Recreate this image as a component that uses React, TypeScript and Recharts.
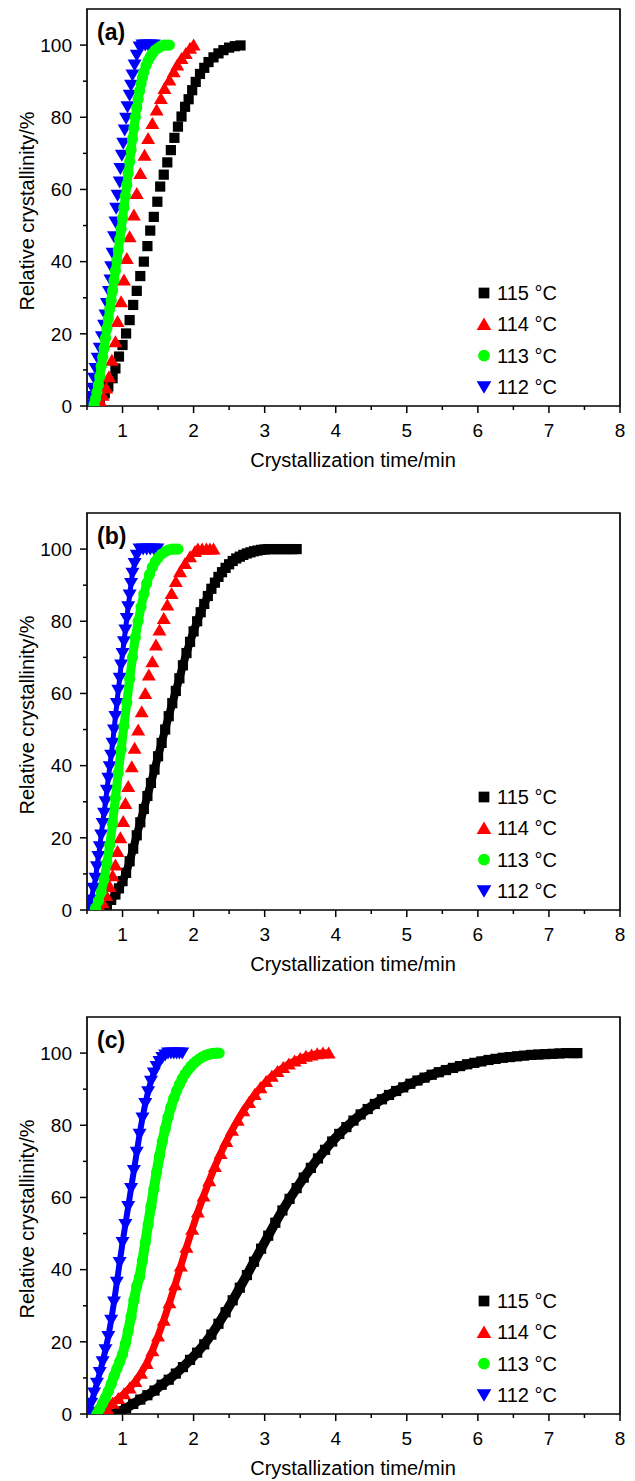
import React from "react";
import { Legend, ReferenceArea, Scatter, ScatterChart, XAxis, YAxis } from "recharts";

type Pt = [number, number]; // [time/min, relative crystallinity/%]

const xTicks = [0.5, 1, 1.5, 2, 2.5, 3, 3.5, 4, 4.5, 5, 5.5, 6, 6.5, 7, 7.5, 8];
const xMajor = [1, 2, 3, 4, 5, 6, 7, 8];
const yTicks = [0, 10, 20, 30, 40, 50, 60, 70, 80, 90, 100];
const yMajor = [0, 20, 40, 60, 80, 100];

const names = ["115 °C", "114 °C", "113 °C", "112 °C"];
const colors = ["#000000", "#ff0000", "#00ff00", "#0000ff"];
const shapes = ["square", "up", "circle", "down"];

// (a)
const a115: Pt[] = [
  [0.68, 1.2], [0.75, 3.5], [0.8, 5.4], [0.86, 7.7], [0.9, 10.4], [0.95, 13.7], [1.0, 16.9], [1.05, 20.1],
  [1.1, 23.8], [1.15, 28], [1.2, 31.9], [1.25, 36], [1.3, 40], [1.35, 44.3], [1.39, 48.6], [1.44, 52.4],
  [1.49, 56.6], [1.53, 60.8], [1.58, 64.1], [1.63, 67.5], [1.68, 70.9], [1.73, 74.3], [1.78, 77.4],
  [1.83, 80.2], [1.88, 82.9], [1.93, 85], [1.98, 87.5], [2.03, 89.8], [2.09, 92], [2.15, 93.7],
  [2.21, 95.3], [2.28, 96.6], [2.35, 97.7], [2.42, 98.6], [2.5, 99.3], [2.58, 99.7], [2.66, 99.9],
];
const a114: Pt[] = [
  [0.64, 0.3], [0.68, 1.5], [0.72, 3], [0.77, 5], [0.81, 8.1], [0.85, 12.7], [0.9, 17.8], [0.93, 23.4],
  [0.98, 28.9], [1.02, 34.9], [1.06, 40.9], [1.1, 46.9], [1.16, 52.9], [1.2, 58.9], [1.25, 64.4],
  [1.31, 69.5], [1.36, 74.1], [1.42, 78.3], [1.48, 82], [1.54, 85.2], [1.59, 88], [1.66, 90.3],
  [1.72, 92.6], [1.77, 94.5], [1.83, 96.3], [1.89, 97.7], [1.95, 99.1], [2.0, 100],
];
const a113: Pt[] = [
  [0.6, 0.5], [0.62, 2], [0.64, 3.8], [0.66, 5.8], [0.68, 8.2], [0.7, 11], [0.72, 13.5], [0.74, 16],
  [0.76, 18.8], [0.78, 21.5], [0.8, 24.2], [0.82, 26.8], [0.84, 29.3], [0.86, 32], [0.88, 34.8],
  [0.9, 37.5], [0.92, 40.3], [0.94, 43.2], [0.96, 46.2], [0.98, 49], [1.0, 52], [1.02, 55], [1.04, 58.2],
  [1.06, 61.3], [1.08, 64.5], [1.1, 67.7], [1.12, 71], [1.14, 74], [1.16, 77], [1.18, 80], [1.2, 82.6],
  [1.22, 85], [1.24, 87.3], [1.26, 89.3], [1.28, 91], [1.3, 92.5], [1.33, 94.3], [1.36, 95.7],
  [1.39, 96.8], [1.42, 97.7], [1.46, 98.6], [1.5, 99.2], [1.54, 99.7], [1.58, 100], [1.62, 100], [1.66, 100],
];
const a112: Pt[] = [
  [0.53, 0.3], [0.55, 2.6], [0.58, 4.9], [0.6, 7.7], [0.62, 10.4], [0.65, 13.2], [0.68, 16], [0.71, 19.2],
  [0.74, 22.4], [0.76, 25.2], [0.78, 28.4], [0.81, 31.7], [0.83, 34.9], [0.84, 38.6], [0.86, 42.3],
  [0.88, 46.9], [0.9, 51], [0.91, 54.8], [0.93, 58.4], [0.96, 62.1], [0.97, 65.8], [0.99, 69.5],
  [1.01, 72.8], [1.03, 76.5], [1.05, 79.7], [1.07, 82.9], [1.1, 86.1], [1.12, 88.9], [1.14, 91.7],
  [1.17, 94.5], [1.2, 97.2], [1.24, 99.5], [1.28, 100], [1.32, 100], [1.36, 100], [1.4, 100], [1.44, 100],
];

// (b)
const b115: Pt[] = [
  [0.72, 0.5], [0.78, 1.5], [0.84, 2.8], [0.9, 4.3], [0.95, 6], [1.0, 8], [1.05, 10.3], [1.1, 13.5],
  [1.15, 17], [1.2, 20.7], [1.25, 24.3], [1.3, 28], [1.35, 31.6], [1.4, 35.2], [1.45, 38.9], [1.5, 42.6],
  [1.55, 46.3], [1.6, 50], [1.65, 53.7], [1.7, 57.3], [1.75, 60.7], [1.8, 64.2], [1.85, 67.8], [1.9, 71.2],
  [1.95, 74.3], [2.0, 77.2], [2.05, 80], [2.1, 82.5], [2.15, 84.8], [2.2, 87], [2.25, 89], [2.3, 90.7],
  [2.35, 92.3], [2.4, 93.6], [2.45, 94.8], [2.5, 95.8], [2.55, 96.7], [2.6, 97.4], [2.65, 97.9],
  [2.7, 98.4], [2.75, 98.8], [2.8, 99.1], [2.85, 99.4], [2.9, 99.6], [2.95, 99.8], [3.0, 99.9],
  [3.05, 100], [3.1, 100], [3.15, 100], [3.2, 100], [3.25, 100], [3.3, 100], [3.35, 100], [3.4, 100], [3.45, 100],
];
const b114: Pt[] = [
  [0.68, 0.5], [0.72, 2], [0.77, 4], [0.82, 6.5], [0.86, 9.5], [0.9, 12.5], [0.93, 16.2], [0.97, 20],
  [1.01, 24.5], [1.04, 29.5], [1.08, 34.2], [1.13, 39.7], [1.17, 44.8], [1.22, 49.9], [1.27, 54.9],
  [1.32, 60], [1.37, 65.1], [1.42, 68.8], [1.47, 73.4], [1.52, 77.6], [1.58, 80.8], [1.63, 84.5],
  [1.69, 87.7], [1.75, 91], [1.81, 93.7], [1.88, 96], [1.95, 97.9], [2.02, 99.3], [2.06, 100],
  [2.12, 100], [2.18, 100], [2.23, 100], [2.28, 100],
];
const b113: Pt[] = [
  [0.62, 0.5], [0.66, 2.5], [0.7, 5], [0.74, 8.5], [0.78, 13], [0.82, 18], [0.86, 24], [0.9, 31],
  [0.94, 38], [0.98, 44.5], [1.02, 51], [1.06, 57.5], [1.1, 64], [1.14, 70], [1.18, 75.5], [1.22, 80],
  [1.26, 84], [1.3, 87.5], [1.34, 90.5], [1.38, 93], [1.42, 95], [1.46, 96.5], [1.5, 97.6], [1.55, 98.6],
  [1.6, 99.3], [1.65, 99.8], [1.7, 100], [1.74, 100], [1.78, 100],
];
const b112: Pt[] = [
  [0.53, 0.5], [0.56, 2.8], [0.59, 6], [0.62, 8.8], [0.64, 12], [0.66, 14.8], [0.68, 17.5], [0.7, 20.8],
  [0.72, 24], [0.74, 26.8], [0.76, 30], [0.78, 33.2], [0.8, 36.5], [0.82, 39.7], [0.84, 42.9],
  [0.86, 46.2], [0.88, 49.9], [0.9, 53.6], [0.92, 57.2], [0.94, 60.9], [0.96, 64.2], [0.98, 67.9],
  [1.0, 71.1], [1.02, 74.3], [1.04, 77.6], [1.06, 80.8], [1.08, 84], [1.1, 87.3], [1.12, 90.5],
  [1.14, 93.3], [1.17, 96], [1.2, 98.3], [1.24, 100], [1.29, 100], [1.34, 100], [1.39, 100], [1.44, 100], [1.49, 100],
];

// (c)
const c115: Pt[] = [
  [0.85, 0], [0.95, 0.6], [1.05, 1.6], [1.15, 2.8], [1.25, 4], [1.35, 5.2], [1.45, 6.5], [1.55, 8.1],
  [1.65, 9.5], [1.75, 11.2], [1.85, 13], [1.95, 15], [2.05, 17], [2.15, 19.3], [2.25, 22],
  [2.35, 25], [2.45, 28.2], [2.55, 31.5], [2.65, 35], [2.75, 38.5], [2.85, 42.2], [2.95, 45.8], [3.05, 49.4],
  [3.15, 53], [3.25, 56.4], [3.35, 59.6], [3.45, 62.6], [3.55, 65.5], [3.65, 68.2], [3.75, 70.8],
  [3.85, 73.2], [3.95, 75.5], [4.05, 77.6], [4.15, 79.5], [4.25, 81.3], [4.35, 83], [4.45, 84.5],
  [4.55, 85.9], [4.65, 87.2], [4.75, 88.4], [4.85, 89.5], [4.95, 90.5], [5.05, 91.5], [5.15, 92.4],
  [5.25, 93.2], [5.35, 94], [5.45, 94.7], [5.55, 95.3], [5.65, 95.9], [5.75, 96.4], [5.85, 96.9],
  [5.95, 97.3], [6.05, 97.7], [6.15, 98.1], [6.25, 98.4], [6.35, 98.7], [6.45, 98.9], [6.55, 99.1],
  [6.65, 99.3], [6.75, 99.5], [6.85, 99.6], [6.95, 99.7], [7.05, 99.8], [7.15, 99.9], [7.25, 100],
  [7.35, 100], [7.4, 100],
];
const c114: Pt[] = [
  [0.7, 0], [0.78, 1.5], [0.86, 3], [0.94, 4.3], [1.02, 5.6], [1.1, 7.2], [1.18, 9], [1.26, 11.3],
  [1.34, 14], [1.42, 17.5], [1.5, 21.6], [1.58, 26], [1.66, 30.8], [1.74, 35.8], [1.82, 41], [1.9, 46.2],
  [1.98, 51.2], [2.06, 56], [2.14, 60.4], [2.22, 64.6], [2.3, 68.6], [2.38, 72.2], [2.46, 75.5],
  [2.54, 78.6], [2.62, 81.4], [2.7, 84], [2.78, 86.3], [2.86, 88.5], [2.94, 90.4], [3.02, 92.1],
  [3.1, 93.6], [3.18, 94.9], [3.26, 96], [3.34, 97], [3.42, 97.8], [3.5, 98.5], [3.58, 99.1],
  [3.66, 99.5], [3.74, 99.8], [3.82, 100], [3.9, 100],
];
const c113: Pt[] = [
  [0.64, 0], [0.68, 1.5], [0.72, 3], [0.76, 4.5], [0.8, 6.3], [0.84, 8.3], [0.88, 10.5], [0.92, 12.5],
  [0.96, 14.5], [1.0, 16.5], [1.04, 19.5], [1.08, 23], [1.12, 27], [1.16, 31.5], [1.2, 35.5], [1.24, 38],
  [1.28, 42.5], [1.32, 47.5], [1.36, 52.5], [1.4, 57.5], [1.44, 62.3], [1.48, 67], [1.52, 71.5],
  [1.56, 75.5], [1.6, 79], [1.64, 82.2], [1.68, 85], [1.72, 87.4], [1.76, 89.5], [1.8, 91.3],
  [1.84, 92.9], [1.88, 94.2], [1.92, 95.3], [1.96, 96.3], [2.0, 97.1], [2.04, 97.8], [2.08, 98.4],
  [2.12, 98.9], [2.16, 99.3], [2.2, 99.6], [2.24, 99.8], [2.28, 99.9], [2.32, 100], [2.36, 100],
];
const c112: Pt[] = [
  [0.52, 0.5], [0.56, 3], [0.6, 5.8], [0.64, 8.5], [0.68, 11.5], [0.72, 14.5], [0.76, 17.8], [0.8, 21.5],
  [0.84, 26], [0.88, 31], [0.92, 36.5], [0.96, 42], [1.0, 47.5], [1.04, 52.5], [1.08, 57.5], [1.12, 62.5],
  [1.16, 67.5], [1.2, 72.5], [1.24, 77.5], [1.28, 82], [1.32, 86], [1.36, 89.3], [1.4, 92.2],
  [1.44, 94.5], [1.48, 96.3], [1.52, 97.7], [1.56, 98.8], [1.6, 99.5], [1.64, 100], [1.68, 100],
  [1.72, 100], [1.76, 100], [1.8, 100], [1.84, 100],
];

const panels = [
  { tag: "(a)", series: [a115, a114, a113, a112], lineWidth: [0, 0, 9, 0] },
  { tag: "(b)", series: [b115, b114, b113, b112], lineWidth: [8, 0, 9, 5] },
  { tag: "(c)", series: [c115, c114, c113, c112], lineWidth: [9.5, 7, 10, 6] },
];

const drawOrder = [0, 1, 3, 2];
const FONT = '"Liberation Sans", Arial, Helvetica, sans-serif';

function Marker({ shape, cx, cy, color, k = 1 }: any) {
  if (cx == null || cy == null) return null;
  if (shape === "square") {
    const h = 5.1 * k;
    return <rect x={cx - h} y={cy - h} width={2 * h} height={2 * h} fill={color} />;
  }
  if (shape === "circle") return <circle cx={cx} cy={cy} r={5.6 * k} fill={color} />;
  const w = 7 * k;
  const t = 6.5 * k;
  const b = 5.5 * k;
  if (shape === "up") {
    return <polygon points={`${cx},${cy - t} ${cx + w},${cy + b} ${cx - w},${cy + b}`} fill={color} />;
  }
  return <polygon points={`${cx - w},${cy - b} ${cx + w},${cy - b} ${cx},${cy + t}`} fill={color} />;
}

function XTick({ x, y, payload }: any) {
  const major = xMajor.includes(payload.value);
  return (
    <g>
      <line x1={x} x2={x} y1={y} y2={y + (major ? 7 : 4)} stroke="#000" strokeWidth={1.5} />
      {major && (
        <text x={x} y={y + 31} textAnchor="middle" fontSize={19} fontFamily={FONT} fill="#000">
          {payload.value}
        </text>
      )}
    </g>
  );
}

function YTick({ x, y, payload }: any) {
  const major = yMajor.includes(payload.value);
  return (
    <g>
      <line x1={x - (major ? 7 : 4)} x2={x} y1={y} y2={y} stroke="#000" strokeWidth={1.5} />
      {major && (
        <text x={x - 15} y={y + 6.8} textAnchor="end" fontSize={19} fontFamily={FONT} fill="#000">
          {payload.value}
        </text>
      )}
    </g>
  );
}

function Tag({ viewBox, text }: any) {
  const x = viewBox ? viewBox.x : 87;
  const y = viewBox ? viewBox.y : 9;
  return (
    <text x={x + 10} y={y + 31} fontSize={23} fontWeight="bold" fontFamily={FONT} fill="#000">
      {text}
    </text>
  );
}

function LegendBox() {
  return (
    <svg width={110} height={130}>
      {names.map((n, i) => {
        const cy = 18 + i * 31.3;
        return (
          <g key={n}>
            <Marker shape={shapes[i]} cx={14} cy={cy} color={colors[i]} k={1.05} />
            <text x={27} y={cy + 7} fontSize={20} fontFamily={FONT} fill="#000">
              {n}
            </text>
          </g>
        );
      })}
    </svg>
  );
}

function Panel({ tag, series, lineWidth }: { tag: string; series: Pt[][]; lineWidth: number[] }) {
  return (
    <ScatterChart width={635} height={504} margin={{ top: 9, right: 15, bottom: 0, left: 0 }}>
      <XAxis
        type="number"
        dataKey="t"
        domain={[0.5, 8]}
        ticks={xTicks}
        interval={0}
        allowDataOverflow
        height={98}
        tickSize={0}
        tickMargin={0}
        tickLine={false}
        axisLine={false}
        tick={<XTick />}
        label={() => (
          <text x={353} y={467} textAnchor="middle" fontSize={20} fontFamily={FONT} fill="#000">
            Crystallization time/min
          </text>
        )}
      />
      <YAxis
        type="number"
        dataKey="x"
        domain={[0, 110]}
        ticks={yTicks}
        interval={0}
        allowDataOverflow
        width={87}
        tickSize={0}
        tickMargin={0}
        tickLine={false}
        axisLine={false}
        tick={<YTick />}
        label={() => (
          <text
            transform="translate(27, 211) rotate(-90)"
            textAnchor="middle"
            dominantBaseline="central"
            fontSize={20}
            fontFamily={FONT}
            fill="#000"
          >
            Relative crystallinity/%
          </text>
        )}
      />
      <ReferenceArea
        x1={0.5}
        x2={8}
        y1={0}
        y2={110}
        fill="none"
        fillOpacity={0}
        stroke="#000"
        strokeWidth={1.7}
        strokeOpacity={1}
        label={<Tag text={tag} />}
      />
      {drawOrder.map((i) => (
        <Scatter
          key={names[i]}
          name={names[i]}
          data={series[i].map(([t, x]) => ({ t, x }))}
          fill={colors[i]}
          isAnimationActive={false}
          line={lineWidth[i] ? { stroke: colors[i], strokeWidth: lineWidth[i] } : false}
          shape={(p: any) => <Marker shape={shapes[i]} cx={p.cx} cy={p.cy} color={colors[i]} />}
        />
      ))}
      <Legend
        layout="vertical"
        align="center"
        verticalAlign="middle"
        wrapperStyle={{ position: "absolute", left: 470, top: 275, width: 110, height: 130 }}
        content={() => <LegendBox />}
      />
    </ScatterChart>
  );
}

export default function App() {
  return (
    <div style={{ position: "absolute", left: 0, top: 0, width: 635, height: 1481, background: "#fff" }}>
      {panels.map((p, k) => (
        <div key={p.tag} style={{ position: "absolute", left: 0, top: k * 504 }}>
          <Panel tag={p.tag} series={p.series} lineWidth={p.lineWidth} />
        </div>
      ))}
    </div>
  );
}
